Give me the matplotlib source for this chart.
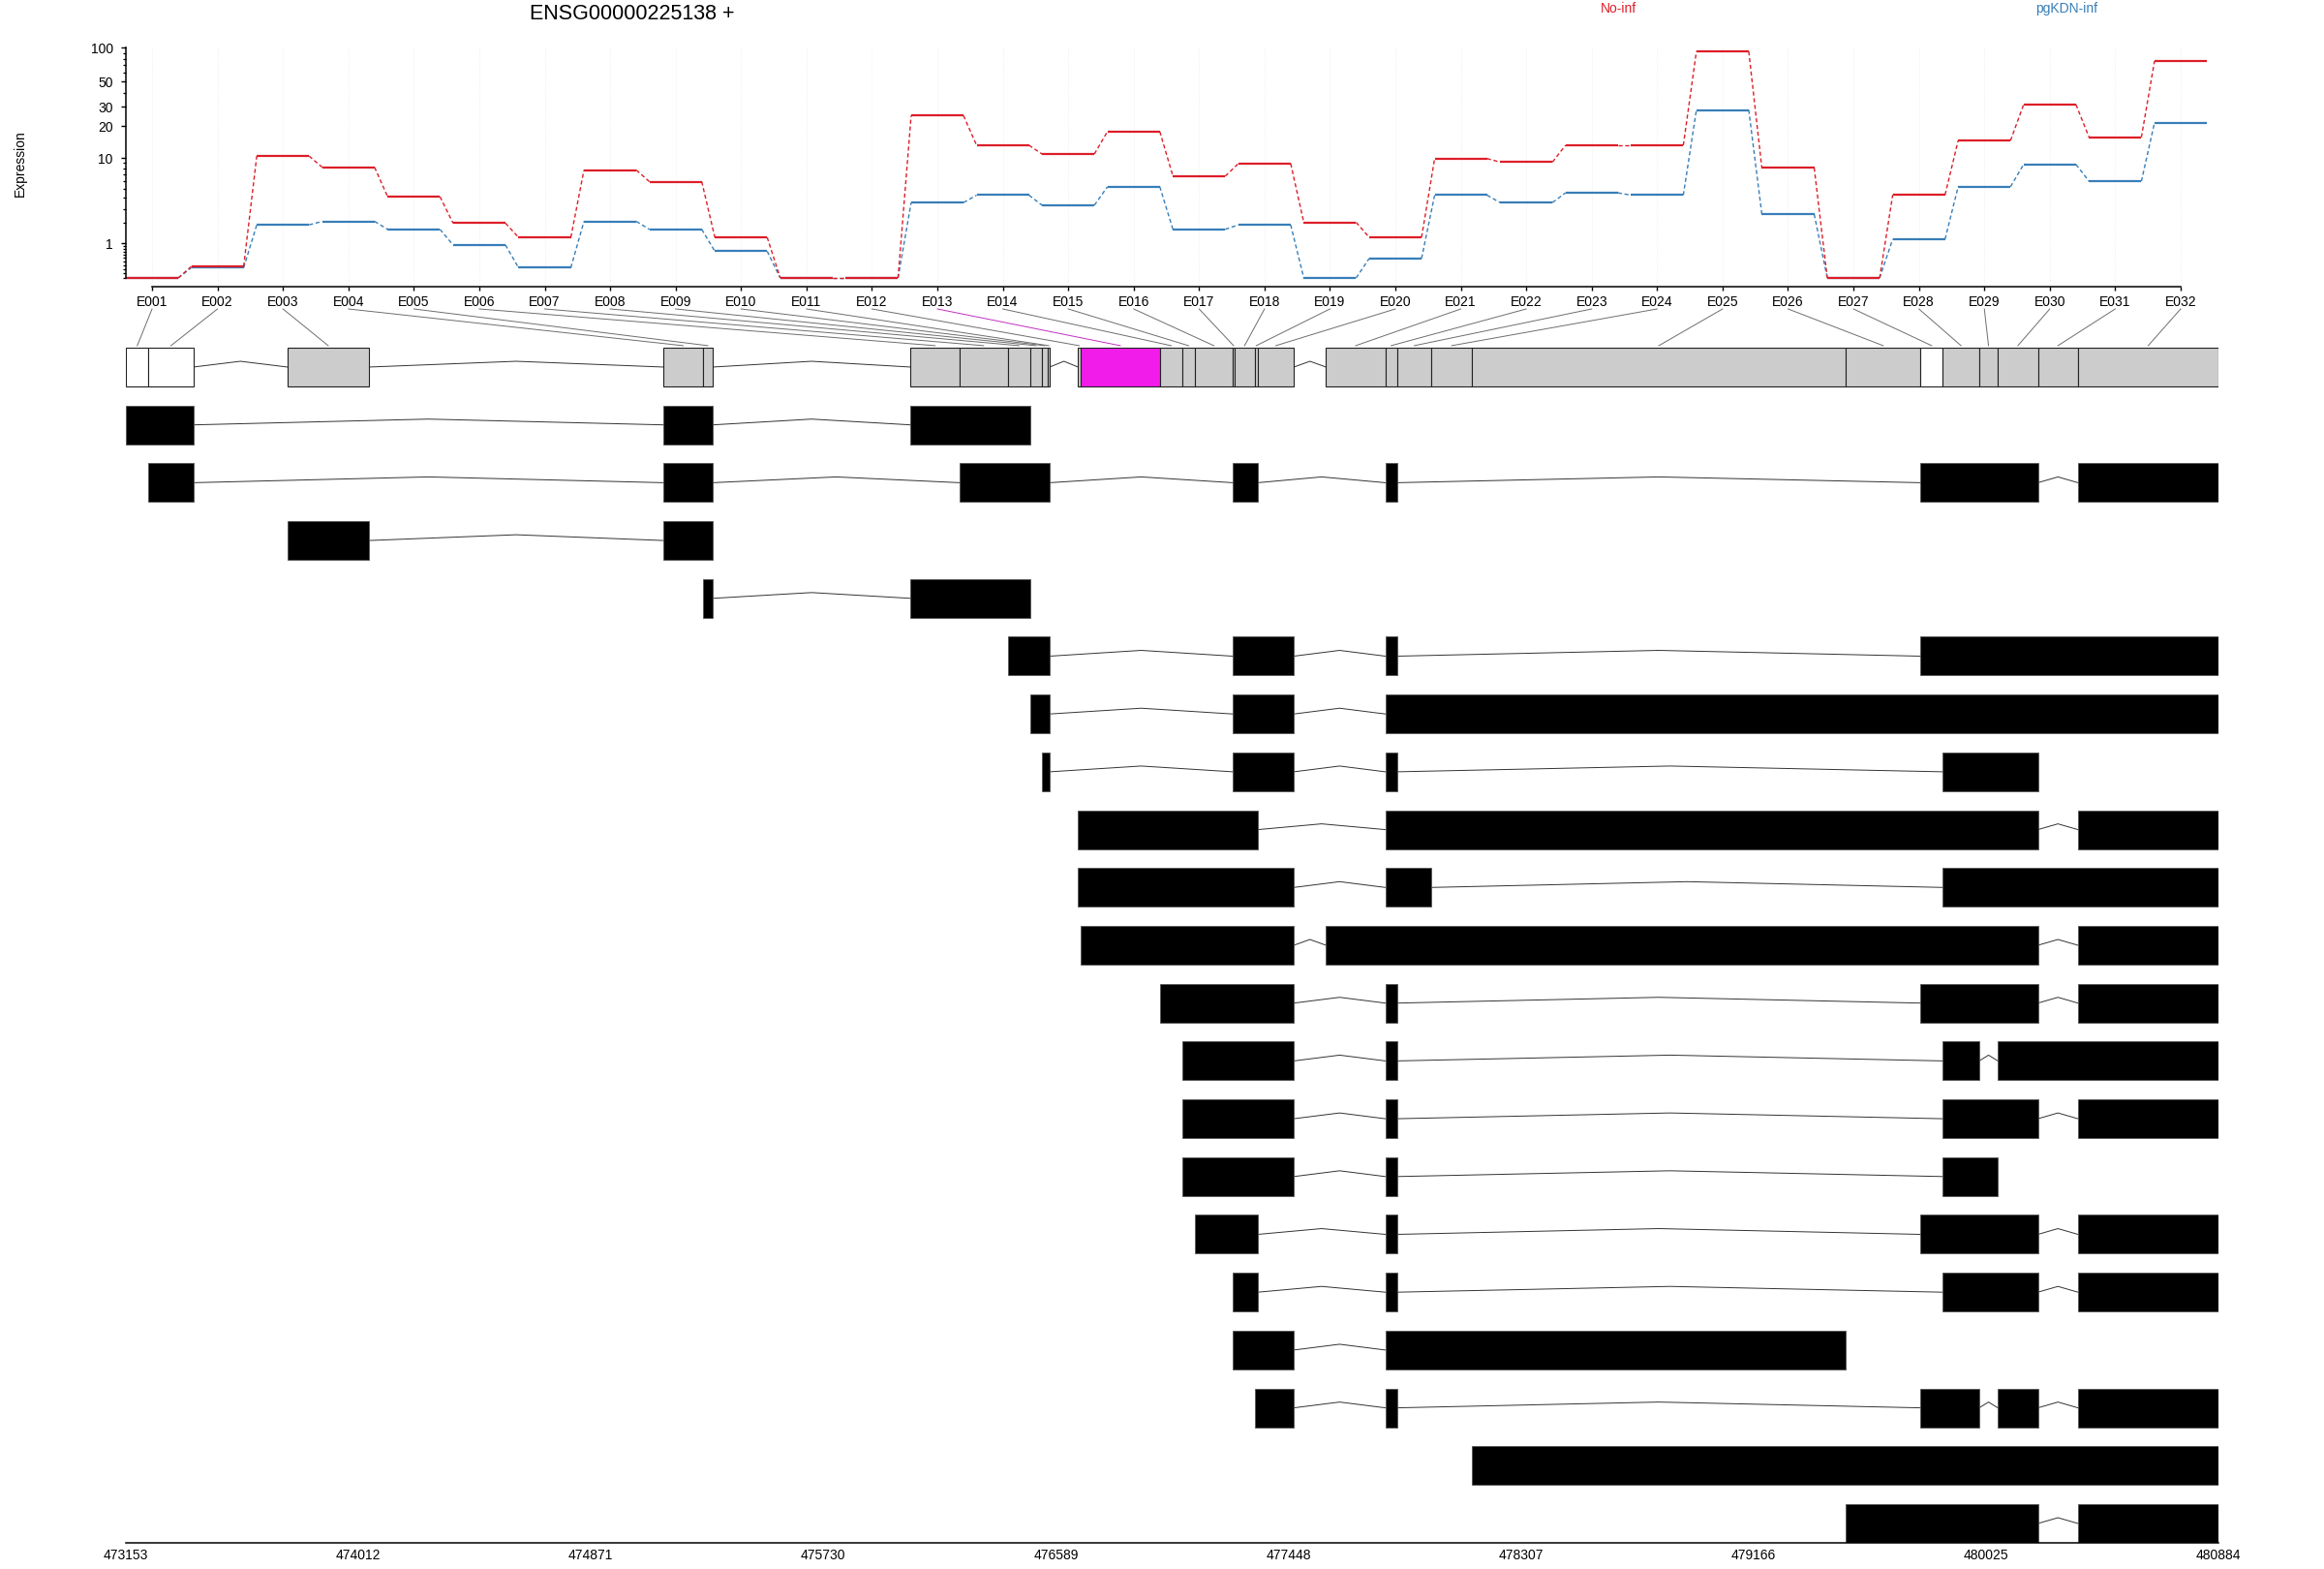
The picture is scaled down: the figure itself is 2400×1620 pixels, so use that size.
import numpy as np
import matplotlib
matplotlib.use("Agg")
from matplotlib import pyplot as plt
from matplotlib.patches import Rectangle

plt.rcParams['font.family'] = ['Liberation Sans', 'DejaVu Sans']

gene_title = "ENSG00000225138 +"
conditions = ["No-inf", "pgKDN-inf"]
cond_colors = ["#DC1E28", "#377EB8"]

exon_names = ["E%03d" % i for i in range(1, 33)]

# fitted expression per exon bin
no_inf = [0, 0.26, 10.5, 8.2, 4.1, 2.0, 1.26, 7.7, 5.9, 1.26, 0, 0, 24.9, 13.3,
          11.0, 17.8, 6.7, 8.9, 2.05, 1.26, 9.95, 9.2, 13.3, 13.3, 92.7, 8.1,
          0, 4.3, 14.7, 31.3, 15.8, 76.1]
pgkdn_inf = [0, 0.23, 1.9, 2.11, 1.65, 0.94, 0.23, 2.11, 1.65, 0.71, 0, 0,
             3.53, 4.26, 3.3, 5.23, 1.65, 1.9, 0, 0.48, 4.26, 3.53, 4.51, 4.26,
             28.0, 2.59, 0, 1.18, 5.23, 8.74, 5.95, 21.4]

# genomic coordinates of the exon bins
bin_start = [473153, 473237, 473750, 475139, 475285, 476052, 476233, 476411,
             476494, 476536, 476559, 476671, 476679, 476975, 477055, 477103,
             477242, 477249, 477323, 477335, 477587, 477806, 477849, 477977,
             478125, 479508, 479783, 479866, 480000, 480069, 480217, 480365]
bin_end = [473237, 473402, 474051, 475285, 475321, 476233, 476411, 476494,
           476536, 476559, 476566, 476679, 476975, 477055, 477103, 477242,
           477249, 477323, 477335, 477468, 477806, 477849, 477977, 478125,
           479508, 479783, 479866, 480000, 480069, 480217, 480365, 480884]
white_bins = [1, 2, 27]
sig_bins = [13]

# transcripts as (first bin, last bin) blocks
transcripts = [
    [(1, 2), (4, 5), (6, 8)],
    [(2, 2), (4, 5), (7, 11), (17, 19), (22, 22), (27, 30), (32, 32)],
    [(3, 3), (4, 5)],
    [(5, 5), (6, 8)],
    [(8, 11), (17, 20), (22, 22), (27, 32)],
    [(9, 11), (17, 20), (22, 32)],
    [(10, 11), (17, 20), (22, 22), (28, 30)],
    [(12, 19), (22, 30), (32, 32)],
    [(12, 20), (22, 23), (28, 32)],
    [(13, 20), (21, 30), (32, 32)],
    [(14, 20), (22, 22), (27, 30), (32, 32)],
    [(15, 20), (22, 22), (28, 28), (30, 32)],
    [(15, 20), (22, 22), (28, 30), (32, 32)],
    [(15, 20), (22, 22), (28, 29)],
    [(16, 19), (22, 22), (27, 30), (32, 32)],
    [(17, 19), (22, 22), (28, 30), (32, 32)],
    [(17, 20), (22, 25)],
    [(19, 20), (22, 22), (27, 28), (30, 30), (32, 32)],
    [(25, 32)],
    [(26, 30), (32, 32)],
]

coord_ticks = [473153, 474012, 474871, 475730, 476589, 477448, 478307,
               479166, 480025, 480884]

W, H = 2400, 1620
fig = plt.figure(figsize=(W / 100, H / 100), dpi=100)

# ---------------- gene model panel (behind) ----------------
gx = fig.add_axes([130 / W, 1 - 1593 / H, (2291 - 130) / W, (1593 - 300) / H])
gx.patch.set_visible(False)
gx.set_xlim(473153, 480884)
gx.set_ylim(20.335, -1.323)
half = 0.335
hat = 0.1

# ---------------- expression panel ----------------
ax = fig.add_axes([130 / W, 1 - 296 / H, (2279 - 130) / W, (296 - 49) / H])
ax.patch.set_visible(False)
fwd = lambda v: np.log10(np.maximum(np.asarray(v, dtype=float) + 1, 1e-9))
inv = lambda f: 10 ** np.asarray(f, dtype=float) - 1
ax.set_yscale('function', functions=(fwd, inv))
ax.set_xlim(0.6, 32.4)
ax.set_ylim(-0.16, 100.5)

idx = np.arange(1, 33)
for i in idx:
    ax.plot([i, i], [-0.16, 100.5], color='#ebebeb', lw=0.6, ls=':', zorder=0)

for vals, col in [(pgkdn_inf, cond_colors[1]), (no_inf, cond_colors[0])]:
    for k in range(len(vals)):
        ax.plot([idx[k] - 0.4, idx[k] + 0.4], [vals[k], vals[k]], color=col,
                lw=1.6, solid_capstyle='butt')
        if k < len(vals) - 1:
            ax.plot([idx[k] + 0.4, idx[k + 1] - 0.4], [vals[k], vals[k + 1]],
                    color=col, lw=1.0, ls=(0, (3, 2)))

for s in ['top', 'right']:
    ax.spines[s].set_visible(False)
ax.spines['left'].set_bounds(0, 100)
ax.spines['bottom'].set_bounds(1, 32)
ax.spines['left'].set_linewidth(1.1)
ax.spines['bottom'].set_linewidth(1.1)
ax.set_yticks([1, 10, 20, 30, 50, 100])
ax.set_yticklabels(["1", "10", "20", "30", "50", "100"])
ax.set_yticks([0] + [k / 10 for k in range(1, 10)] + list(range(2, 10)) +
              [40, 60, 70, 80, 90], minor=True)
ax.yaxis.set_minor_formatter(plt.NullFormatter())
ax.tick_params(axis='y', which='major', length=3.6, width=1.0, pad=6,
               labelsize=10)
ax.tick_params(axis='y', which='minor', length=2.2, width=0.9)
ax.set_xticks(idx)
ax.set_xticklabels(exon_names)
ax.tick_params(axis='x', length=3, width=1.0, pad=3.6, labelsize=10)

fig.text(653 / W, 1 - 15 / H, gene_title, ha='center', va='center',
         fontsize=15.5)
fig.text(1672 / W, 1 - 9 / H, conditions[0], color=cond_colors[0],
         ha='center', va='center', fontsize=10)
fig.text(2134 / W, 1 - 9 / H, conditions[1], color=cond_colors[1],
         ha='center', va='center', fontsize=10)
fig.text(21 / W, 1 - 169 / H, "Expression", rotation=90, ha='center',
         va='center', fontsize=10)


def draw_hats(ax_, r, blocks):
    for (s1, e1), (s2, e2) in zip(blocks[:-1], blocks[1:]):
        if s2 > e1:
            ax_.plot([e1, (e1 + s2) / 2, s2], [r, r - hat, r], color='#333333',
                     lw=0.7, zorder=1)


# gene model row: every bin as its own box
for b in range(32):
    n = b + 1
    fc = '#cccccc'
    if n in white_bins:
        fc = 'white'
    if n in sig_bins:
        fc = '#F21CEA'
    gx.add_patch(Rectangle((bin_start[b], -half), bin_end[b] - bin_start[b],
                           2 * half, facecolor=fc, edgecolor='#222222',
                           lw=0.8, zorder=2))
merged = []
for b in range(32):
    if merged and bin_start[b] == merged[-1][1]:
        merged[-1][1] = bin_end[b]
    else:
        merged.append([bin_start[b], bin_end[b]])
draw_hats(gx, 0, merged)

# connectors from exon labels to bins
for k in range(32):
    px = ax.transData.transform((idx[k], 1.0))
    x0 = gx.transData.inverted().transform(px)[0]
    x1 = (bin_start[k] + bin_end[k]) / 2
    col = '#c030c0' if (k + 1) in sig_bins else '#6e6e6e'
    gx.plot([x0, x1], [-1.005, -0.37], color=col, lw=0.7, clip_on=False,
            zorder=1)

# transcripts
for t, blocks in enumerate(transcripts):
    r = t + 1
    segs = [(bin_start[a - 1], bin_end[b - 1]) for a, b in blocks]
    for s, e in segs:
        gx.add_patch(Rectangle((s, r - half), e - s, 2 * half,
                               facecolor='black', edgecolor='#555555',
                               lw=0.6, zorder=2))
    draw_hats(gx, r, segs)

for s in ['top', 'right', 'left']:
    gx.spines[s].set_visible(False)
gx.spines['bottom'].set_linewidth(1.1)
gx.set_yticks([])
gx.set_xticks(coord_ticks)
gx.set_xticklabels([str(c) for c in coord_ticks])
gx.tick_params(axis='x', length=0, pad=4, labelsize=10)

fig.savefig("out.png", dpi=100)
